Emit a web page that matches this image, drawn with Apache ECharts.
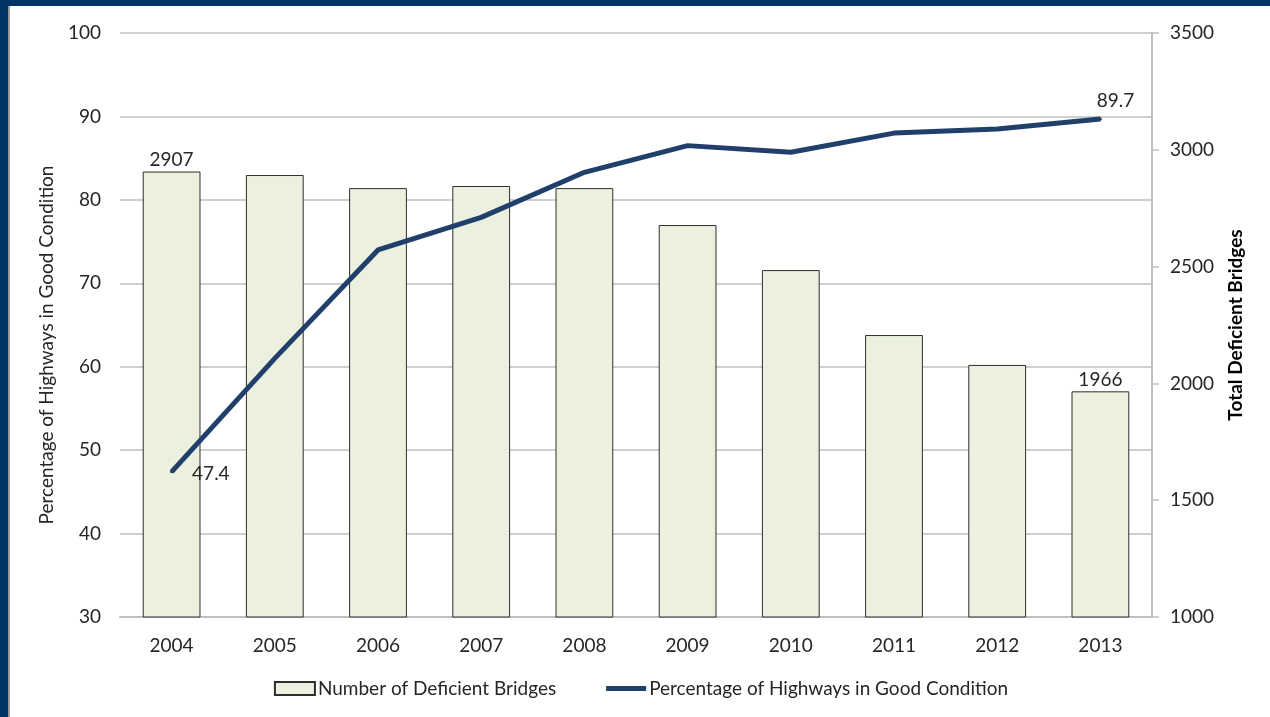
<!DOCTYPE html>
<html>
<head>
<meta charset="utf-8">
<script src="https://cdn.jsdelivr.net/npm/echarts@6/dist/echarts.min.js"></script>
<style>
  html, body { margin: 0; padding: 0; background: #003366; overflow: hidden; }
  #main { position: absolute; left: 8px; top: 6px; width: 1262px; height: 711px; background: #fff; border-left: 2px solid #9a9a9a; }
</style>
</head>
<body>
<div id="main"></div>
<script>
const years = ['2004', '2005', '2006', '2007', '2008', '2009', '2010', '2011', '2012', '2013'];
// total deficient bridges (right axis)
const bridges = [2907, 2892, 2836, 2845, 2836, 2678, 2485, 2207, 2079, 1966];
// percentage of highways in good condition (left axis)
const goodPct = [47.4, 61.0, 74.0, 77.9, 83.3, 86.5, 85.7, 88.0, 88.5, 89.7];
const leftTicks = [30, 100, 10];
const rightTicks = [1000, 3500, 500];

const font = 'Lato, "Open Sans", sans-serif';
const txt = '#262626';
const fs = 19;

var myChart = echarts.init(document.getElementById('main'));

const option = {
  animation: false,
  textStyle: { fontFamily: font },
  grid: { left: 110, right: 120, top: 27, bottom: 100 },
  legend: {
    bottom: 14,
    left: 'center',
    itemGap: 50,
    itemWidth: 40,
    itemHeight: 13,
    symbolKeepAspect: true,
    textStyle: { fontSize: fs, color: txt, fontFamily: font, padding: [0, 0, 0, -2] },
    data: [
      { name: 'Number of Deficient Bridges', icon: 'rect' },
      { name: 'Percentage of Highways in Good Condition', icon: 'path://M0 0 H40 V5 H0 Z' }
    ]
  },
  xAxis: {
    type: 'category',
    data: years,
    axisLine: { lineStyle: { color: '#bfbfbf', width: 2 } },
    axisTick: { show: false },
    axisLabel: { fontSize: fs, color: txt, margin: 19 }
  },
  yAxis: [
    {
      type: 'value',
      min: leftTicks[0], max: leftTicks[1], interval: leftTicks[2],
      name: 'Percentage of Highways in Good Condition',
      nameLocation: 'middle',
      nameGap: 64,
      nameTextStyle: { fontSize: fs, color: txt, padding: [0, 40, 0, 0] },
      axisLine: { show: false },
      axisTick: { show: false },
      axisLabel: { fontSize: fs, color: txt, margin: 19 },
      splitLine: { lineStyle: { color: '#bfbfbf', width: 1.5 } }
    },
    {
      type: 'value',
      min: rightTicks[0], max: rightTicks[1], interval: rightTicks[2],
      name: 'Total Deficient Bridges',
      nameLocation: 'middle',
      nameGap: 74,
      nameRotate: 90,
      nameTextStyle: { fontSize: fs, color: '#000', fontWeight: 'bold' },
      position: 'right',
      axisLine: { show: true, lineStyle: { color: '#bfbfbf', width: 2 } },
      axisTick: { show: true, length: 7, lineStyle: { color: '#bfbfbf', width: 1.5 } },
      axisLabel: { fontSize: fs, color: txt, margin: 18, formatter: v => String(v) },
      splitLine: { show: false }
    }
  ],
  series: [
    {
      name: 'Number of Deficient Bridges',
      type: 'bar',
      yAxisIndex: 1,
      barWidth: '56%',
      data: bridges.map((v, i) => ({
        value: v,
        label: { show: i === 0 || i === bridges.length - 1 }
      })),
      itemStyle: { color: '#ebf1de', borderColor: '#2e2e2e', borderWidth: 1 },
      label: { position: 'top', fontSize: fs, color: txt, distance: 2 }
    },
    {
      name: 'Percentage of Highways in Good Condition',
      type: 'line',
      yAxisIndex: 0,
      symbol: 'circle',
      symbolSize: 3,
      data: goodPct.map((v, i) => ({
        value: v,
        label: {
          show: i === 0 || i === goodPct.length - 1,
          position: i === 0 ? 'right' : 'top',
          offset: i === 0 ? [14, 2] : [-10 + 25, -2]
        }
      })),
      lineStyle: { color: '#213f6b', width: 5 },
      itemStyle: { color: '#213f6b' },
      label: { fontSize: fs, color: txt },
      z: 5
    }
  ]
};

myChart.setOption(option);
</script>
</body>
</html>
